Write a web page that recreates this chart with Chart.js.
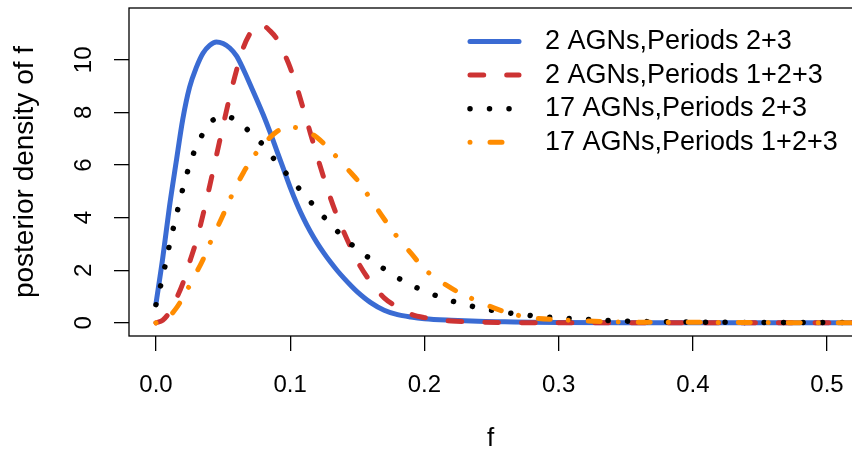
<!DOCTYPE html>
<html>
<head>
<meta charset="utf-8">
<script src="https://cdn.jsdelivr.net/npm/chart.js@4.4.1/dist/chart.umd.min.js"></script>
<style>
  html, body { margin: 0; padding: 0; background: #fff; overflow: hidden; }
  canvas { display: block; }
</style>
</head>
<body>
<canvas id="chart" width="852" height="452"></canvas>
<script>
// values
const fValues = [0, 0.005, 0.01, 0.015, 0.02, 0.025, 0.03, 0.035, 0.04, 0.045, 0.05, 0.055, 0.06, 0.065, 0.07,
  0.075, 0.08, 0.085, 0.09, 0.095, 0.10, 0.105, 0.11, 0.115, 0.12, 0.125, 0.13, 0.135, 0.14, 0.145, 0.15,
  0.16, 0.17, 0.18, 0.19, 0.20, 0.22, 0.24, 0.26, 0.28, 0.30, 0.35, 0.40, 0.45, 0.50, 0.52];

const agn2Per23 = [0.73, 2.45, 4.4, 6.1, 7.75, 8.95, 9.7, 10.25, 10.55, 10.68, 10.62, 10.45, 10.15, 9.65, 9.08,
  8.5, 7.9, 7.25, 6.55, 5.85, 5.15, 4.52, 3.96, 3.47, 3.04, 2.66, 2.31, 1.99, 1.7, 1.43, 1.18,
  0.77, 0.48, 0.31, 0.22, 0.16, 0.1, 0.06, 0.04, 0.02, 0.01, 0.005, 0.005, 0, 0, 0];

const agn2Per123 = [0, 0.1, 0.4, 0.9, 1.5, 2.3, 3.1, 4.1, 5.2, 6.35, 7.5, 8.6, 9.6, 10.45, 11.0,
  11.32, 11.3, 11.1, 10.8, 10.3, 9.7, 8.95, 8.1, 7.22, 6.35, 5.52, 4.75, 4.05, 3.45, 2.88, 2.35,
  1.55, 0.95, 0.6, 0.33, 0.2, 0.07, 0.03, 0.01, 0, 0, 0, 0, 0, 0, 0];

const agn17Per23 = [0.69, 1.75, 2.95, 4.05, 5.1, 6.0, 6.7, 7.2, 7.6, 7.78, 7.85, 7.82, 7.7, 7.5, 7.25,
  7.02, 6.75, 6.42, 6.1, 5.8, 5.5, 5.2, 4.9, 4.61, 4.32, 4.03, 3.76, 3.49, 3.24, 3.01, 2.8,
  2.42, 2.05, 1.72, 1.44, 1.21, 0.84, 0.58, 0.4, 0.27, 0.19, 0.065, 0.03, 0.015, 0.01, 0.01];

const agn17Per123 = [0, 0.07, 0.25, 0.55, 0.95, 1.42, 1.9, 2.4, 3.0, 3.55, 4.1, 4.68, 5.22, 5.7, 6.12,
  6.48, 6.78, 7.05, 7.27, 7.4, 7.44, 7.42, 7.35, 7.22, 7.05, 6.82, 6.55, 6.29, 6.0, 5.72, 5.43,
  4.7, 3.95, 3.25, 2.65, 2.05, 1.32, 0.82, 0.42, 0.19, 0.12, 0.03, 0.02, 0.01, 0, 0];

const seriesLabels = ["2 AGNs,Periods 2+3", "2 AGNs,Periods 1+2+3", "17 AGNs,Periods 2+3", "17 AGNs,Periods 1+2+3"];
const xTicks = [0, 0.1, 0.2, 0.3, 0.4, 0.5];
const yTicks = [0, 2, 4, 6, 8, 10];

const FONT = '"Liberation Sans", Arial, Helvetica, sans-serif';

function points(values) {
    return fValues.map((f, i) => ({ x: f, y: values[i] }));
}

// box round the plot region, right side runs off the canvas like the original
const boxPlugin = {
    id: "plotBox",
    beforeDatasetsDraw(chart) {
        const { ctx, chartArea } = chart;
        ctx.save();
        ctx.strokeStyle = "#000";
        ctx.lineWidth = 1.3;
        ctx.strokeRect(chartArea.left, chartArea.top, chartArea.right - chartArea.left + 20, chartArea.bottom - chartArea.top);
        ctx.restore();
    }
};

// R style legend, no frame
const legendPlugin = {
    id: "rLegend",
    afterDatasetsDraw(chart) {
        const ctx = chart.ctx;
        chart.data.datasets.forEach((ds, i) => {
            const y = 41.5 + i * 33.6;
            ctx.save();
            ctx.strokeStyle = ds.borderColor;
            ctx.lineWidth = ds.borderWidth;
            ctx.lineCap = "round";
            ctx.setLineDash(ds.borderDash || []);
            ctx.beginPath();
            ctx.moveTo(470, y);
            ctx.lineTo(519, y);
            ctx.stroke();
            ctx.restore();

            ctx.save();
            ctx.fillStyle = "#000";
            ctx.font = "27px " + FONT;
            ctx.textBaseline = "middle";
            ctx.fillText(ds.label, 545, y);
            ctx.restore();
        });
    }
};

const ctx = document.getElementById("chart").getContext("2d");

new Chart(ctx, {
    type: "line",
    data: {
        datasets: [
            {
                label: seriesLabels[0],
                data: points(agn2Per23),
                borderColor: "#3a6bd3",
                borderWidth: 5,
                order: 4
            },
            {
                label: seriesLabels[1],
                data: points(agn2Per123),
                borderColor: "#cd3333",
                borderWidth: 5,
                borderDash: [13.7, 23],
                order: 3
            },
            {
                label: seriesLabels[2],
                data: points(agn17Per23),
                borderColor: "#000000",
                borderWidth: 5.5,
                borderDash: [0.01, 19.5],
                order: 2
            },
            {
                label: seriesLabels[3],
                data: points(agn17Per123),
                borderColor: "#ff8c00",
                borderWidth: 5,
                borderDash: [0.01, 20, 12, 18],
                order: 1
            }
        ].map(ds => Object.assign(ds, {
            fill: false,
            pointRadius: 0,
            borderCapStyle: "round",
            borderJoinStyle: "round",
            cubicInterpolationMode: "monotone"
        }))
    },
    options: {
        responsive: false,
        animation: false,
        devicePixelRatio: 1,
        layout: { padding: { top: 8, right: 0, bottom: 0, left: 0 } },
        plugins: {
            legend: { display: false },
            tooltip: { enabled: false }
        },
        scales: {
            x: {
                type: "linear",
                min: -0.0201,
                max: 0.5186,
                afterBuildTicks: scale => { scale.ticks = xTicks.map(v => ({ value: v })); },
                afterFit: scale => {
                    scale.height = 116;
                    scale.paddingLeft = 0;
                    scale.paddingRight = 0;
                },
                grid: { drawOnChartArea: false, drawTicks: true, tickLength: 15, color: "#000", lineWidth: 1.3 },
                border: { display: false },
                ticks: {
                    color: "#000",
                    padding: 20,
                    maxRotation: 0,
                    font: { family: FONT, size: 24 },
                    callback: v => v.toFixed(1)
                },
                title: {
                    display: true,
                    text: "f",
                    color: "#000",
                    font: { family: FONT, size: 26, lineHeight: 1 },
                    padding: { top: 0, bottom: 0 }
                }
            },
            y: {
                type: "linear",
                min: -0.5,
                max: 11.97,
                afterBuildTicks: scale => { scale.ticks = yTicks.map(v => ({ value: v })); },
                afterFit: scale => {
                    scale.width = 129;
                    scale.paddingTop = 0;
                    scale.paddingBottom = 0;
                },
                grid: { drawOnChartArea: false, drawTicks: true, tickLength: 15, color: "#000", lineWidth: 1.3 },
                border: { display: false },
                ticks: {
                    color: "#000",
                    minRotation: 90,
                    maxRotation: 90,
                    crossAlign: "center",
                    padding: 16,
                    font: { family: FONT, size: 24 },
                    callback: v => String(v)
                },
                title: {
                    display: true,
                    text: "posterior density of f",
                    color: "#000",
                    font: { family: FONT, size: 28, lineHeight: 1 },
                    padding: { top: 11, bottom: 0 }
                }
            }
        }
    },
    plugins: [boxPlugin, legendPlugin]
});
</script>
</body>
</html>
